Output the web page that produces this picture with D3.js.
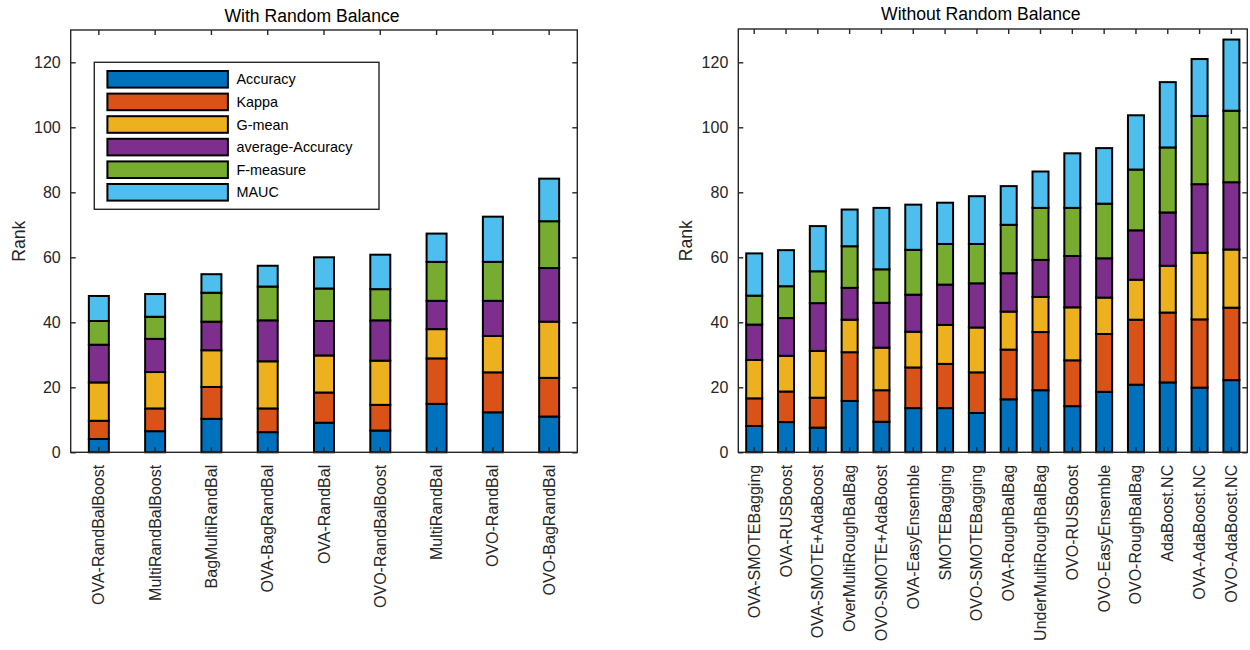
<!DOCTYPE html>
<html><head><meta charset="utf-8">
<script src="https://cdn.jsdelivr.net/npm/d3@7"></script>
<style>body{margin:0;background:#fff}svg{display:block}</style>
</head><body><svg id="c" width="1250" height="650"></svg>
<script>
// ---- data ----
const metrics = ["Accuracy", "Kappa", "G-mean", "average-Accuracy", "F-measure", "MAUC"];
const colors = ["#0072BD", "#D95319", "#EDB120", "#7E2F8E", "#77AC30", "#4DBEEE"];

const catsWith = ["OVA-RandBalBoost", "MultiRandBalBoost", "BagMultiRandBal", "OVA-BagRandBal",
  "OVA-RandBal", "OVO-RandBalBoost", "MultiRandBal", "OVO-RandBal", "OVO-BagRandBal"];
const withAccuracy = [4.1, 6.5, 10.3, 6.2, 9.1, 6.7, 14.9, 12.3, 11.0];
const withKappa    = [5.6, 7.0, 9.8, 7.3, 9.3, 7.9, 14.0, 12.3, 11.9];
const withGmean    = [11.8, 11.2, 11.3, 14.5, 11.4, 13.6, 9.0, 11.2, 17.3];
const withAvgAcc   = [11.6, 10.2, 8.8, 12.6, 10.6, 12.4, 8.7, 10.8, 16.5];
const withFmeasure = [7.3, 6.8, 8.9, 10.4, 10.0, 9.6, 12.0, 12.0, 14.4];
const withMAUC     = [7.7, 7.0, 5.7, 6.4, 9.6, 10.6, 8.7, 13.9, 13.1];

const catsWithout = ["OVA-SMOTEBagging", "OVA-RUSBoost", "OVA-SMOTE+AdaBoost", "OverMultiRoughBalBag",
  "OVO-SMOTE+AdaBoost", "OVA-EasyEnsemble", "SMOTEBagging", "OVO-SMOTEBagging", "OVA-RoughBalBag",
  "UnderMultiRoughBalBag", "OVO-RUSBoost", "OVO-EasyEnsemble", "OVO-RoughBalBag", "AdaBoost.NC",
  "OVA-AdaBoost.NC", "OVO-AdaBoost.NC"];
const woAccuracy = [8.1, 9.3, 7.6, 15.8, 9.4, 13.6, 13.6, 12.1, 16.3, 19.1, 14.2, 18.6, 20.8, 21.5, 19.9, 22.2];
const woKappa    = [8.5, 9.4, 9.2, 15.0, 9.7, 12.5, 13.6, 12.5, 15.3, 17.9, 14.1, 17.8, 20.0, 21.5, 21.0, 22.3];
const woGmean    = [11.8, 11.0, 14.4, 10.0, 13.1, 11.0, 12.0, 13.8, 11.7, 10.8, 16.3, 11.2, 12.3, 14.4, 20.5, 17.9];
const woAvgAcc   = [10.9, 11.6, 14.7, 9.8, 13.8, 11.4, 12.4, 13.6, 11.8, 11.4, 15.8, 12.1, 15.2, 16.4, 21.1, 20.7];
const woFmeasure = [8.9, 9.8, 9.8, 12.8, 10.3, 13.8, 12.5, 12.1, 14.9, 16.0, 14.8, 16.8, 18.7, 20.0, 21.0, 22.0];
const woMAUC     = [13.0, 11.1, 13.9, 11.3, 18.9, 13.9, 12.7, 14.7, 11.9, 11.2, 16.8, 17.1, 16.7, 20.1, 17.5, 21.9];

const yTicks = [0, 20, 40, 60, 80, 100, 120];

// ---- drawing ----
const svg = d3.select("#c");
const FONT = "'Liberation Sans', Arial, Helvetica, sans-serif";
const AX = "#262626";
const BASE = 16;

function panel(opts) {
  const {cats, series, x0, x1, yTop, yBot, pad, title, titleY, legend} = opts;
  const g = svg.append("g");
  const rows = cats.map((c, i) => {
    const o = {cat: c};
    metrics.forEach((m, k) => o[m] = series[k][i]);
    return o;
  });
  const stacked = d3.stack().keys(metrics)(rows);
  const x = d3.scaleBand().domain(cats).range([x0, x1]).paddingInner(pad).paddingOuter(pad / 2);
  const y = d3.scaleLinear().domain([0, 130]).range([yBot, yBot - 130 * 3.25]);

  // bars
  stacked.forEach((s, k) => {
    g.append("g").selectAll("rect").data(s).join("rect")
      .attr("x", d => x(d.data.cat))
      .attr("width", x.bandwidth())
      .attr("y", d => y(d[1]))
      .attr("height", d => y(d[0]) - y(d[1]))
      .attr("fill", colors[k])
      .attr("stroke", "#000")
      .attr("stroke-width", 2);
  });

  // frame
  g.append("rect").attr("x", x0).attr("y", yTop).attr("width", x1 - x0).attr("height", yBot - yTop)
    .attr("fill", "none").attr("stroke", AX).attr("stroke-width", 1.4);

  const tl = 5;
  const ly = d3.axisLeft(y).tickValues(yTicks).tickSize(-tl).tickPadding(10).tickFormat(d3.format("d"));
  const ga = g.append("g").attr("transform", `translate(${x0},0)`).call(ly);
  const ry = d3.axisRight(y).tickValues(yTicks).tickSize(-tl).tickFormat("");
  const gr = g.append("g").attr("transform", `translate(${x1},0)`).call(ry);
  const bx = d3.axisBottom(x).tickSize(-tl).tickFormat("");
  const gb = g.append("g").attr("transform", `translate(0,${yBot})`).call(bx);
  const tx = d3.axisTop(x).tickSize(-tl).tickFormat("");
  const gt = g.append("g").attr("transform", `translate(0,${yTop})`).call(tx);
  [ga, gr, gb, gt].forEach(a => {
    a.select(".domain").remove();
    a.selectAll(".tick line").attr("stroke", AX).attr("stroke-width", 1.4);
  });
  ga.selectAll(".tick text").attr("fill", AX).style("font-family", FONT).style("font-size", BASE + "px");

  // category labels
  g.append("g").selectAll("text").data(cats).join("text")
    .attr("transform", d => `translate(${x(d) + x.bandwidth() / 2},${yBot + 12.5}) rotate(-90)`)
    .attr("text-anchor", "end").attr("dominant-baseline", "central")
    .attr("fill", AX).style("font-family", FONT).style("font-size", BASE + "px")
    .text(d => d);

  // title
  g.append("text").attr("x", (x0 + x1) / 2 - 12).attr("y", titleY).attr("text-anchor", "middle")
    .attr("fill", "#000").style("font-family", FONT).style("font-size", (BASE * 1.1) + "px").text(title);
  // y label
  g.append("text").attr("transform", `translate(${x0 - 46},${(yTop + yBot) / 2}) rotate(-90)`)
    .attr("text-anchor", "middle").attr("fill", AX)
    .style("font-family", FONT).style("font-size", (BASE * 1.1) + "px").text("Rank");

  if (legend) {
    const lg = g.append("g");
    lg.append("rect").attr("x", 94.3).attr("y", 62.3).attr("width", 284.7).attr("height", 147)
      .attr("fill", "#fff").attr("stroke", AX).attr("stroke-width", 1.4);
    const ly2 = d3.scalePoint().domain(metrics).range([79.3, 192.3]);
    metrics.forEach((m, k) => {
      lg.append("rect").attr("x", 107.4).attr("y", ly2(m) - 8.3).attr("width", 120.5).attr("height", 16.6)
        .attr("fill", colors[k]).attr("stroke", "#000").attr("stroke-width", 2);
      lg.append("text").attr("x", 236.5).attr("y", ly2(m)).attr("dominant-baseline", "central")
        .attr("fill", "#000").style("font-family", FONT).style("font-size", (BASE * 0.9) + "px").text(m);
    });
  }
}

panel({
  cats: catsWith,
  series: [withAccuracy, withKappa, withGmean, withAvgAcc, withFmeasure, withMAUC],
  x0: 70.7, x1: 577.3, yTop: 30, yBot: 452.3, pad: 0.645,
  title: "With Random Balance", titleY: 21.5, legend: true
});
panel({
  cats: catsWithout,
  series: [woAccuracy, woKappa, woGmean, woAvgAcc, woFmeasure, woMAUC],
  x0: 738.3, x1: 1247.3, yTop: 29, yBot: 452.3, pad: 0.497,
  title: "Without Random Balance", titleY: 20, legend: false
});
</script>
</body></html>
